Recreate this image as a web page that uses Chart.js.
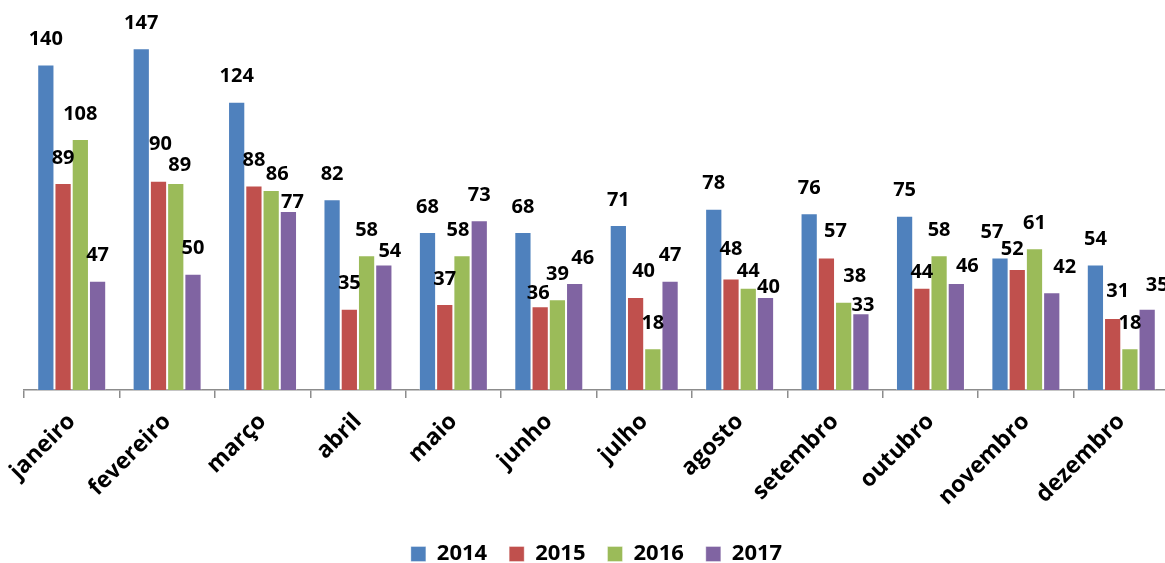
<!DOCTYPE html>
<html>
<head>
<meta charset="utf-8">
<script src="https://cdn.jsdelivr.net/npm/chart.js@4.4.1/dist/chart.umd.min.js"></script>
<style>
  html, body { margin: 0; padding: 0; background: #fff; overflow: hidden; }
  #wrap { width: 1165px; height: 563px; overflow: hidden; }
</style>
</head>
<body>
<div id="wrap">
  <canvas id="meses" width="1175" height="575"></canvas>
</div>
<script>
const months = ['janeiro', 'fevereiro', 'março', 'abril', 'maio', 'junho',
  'julho', 'agosto', 'setembro', 'outubro', 'novembro', 'dezembro'];
const years = ['2014', '2015', '2016', '2017'];

const values2014 = [140, 147, 124, 82, 68, 68, 71, 78, 76, 75, 57, 54];
const values2015 = [89, 90, 88, 35, 37, 36, 40, 48, 57, 44, 52, 31];
const values2016 = [108, 89, 86, 58, 58, 39, 18, 44, 38, 58, 61, 18];
const values2017 = [47, 50, 77, 54, 73, 46, 47, 40, 33, 46, 42, 35];

const colors = ['#4F81BD', '#C0504D', '#9BBB59', '#8064A2'];
const fontFamily = '"Open Sans", Lato, sans-serif';

// hand-placed label nudges [dx, dy], keyed "series-month"
const labelShift = {
  '1-1': [2, -11], '2-1': [4, 7],
  '2-2': [6, 9], '3-2': [4, 16],
  '3-3': [6, 12],
  '2-4': [-4, 0],
  '1-5': [-2, 12], '3-5': [8, 0],
  '1-6': [8, -1],
  '1-7': [0, -4], '2-7': [0, 9], '3-7': [3, 15],
  '1-8': [9, -1], '2-8': [11, 0], '3-8': [2, 17],
  '1-9': [0, 10], '3-9': [11, 8],
  '0-10': [-8, 0], '1-10': [-5, 5], '3-10': [13, 0],
  '1-11': [5, -2], '3-11': [10, 2]
};

const valueLabels = {
  id: 'valueLabels',
  afterDatasetsDraw(chart) {
    const ctx = chart.ctx;
    ctx.save();
    ctx.font = 'bold 20px ' + fontFamily;
    ctx.fillStyle = '#000';
    ctx.textAlign = 'center';
    ctx.textBaseline = 'middle';
    chart.data.datasets.forEach((ds, s) => {
      chart.getDatasetMeta(s).data.forEach((bar, i) => {
        const shift = labelShift[s + '-' + i] || [0, 0];
        ctx.fillText(ds.data[i], bar.x + shift[0], bar.y - 25 + shift[1]);
      });
    });
    ctx.restore();
  }
};

const seriesValues = [values2014, values2015, values2016, values2017];

const data = {
  labels: months,
  datasets: years.map((year, i) => ({
    label: year,
    data: seriesValues[i],
    backgroundColor: colors[i],
    borderColor: 'rgba(255,255,255,0.35)',
    borderWidth: 1,
    categoryPercentage: 0.723,
    barPercentage: 1
  }))
};

new Chart(document.getElementById('meses'), {
  type: 'bar',
  data: data,
  options: {
    responsive: false,
    animation: false,
    layout: { padding: { top: 18, left: 24, right: 6, bottom: 0 } },
    plugins: {
      legend: {
        position: 'bottom',
        labels: {
          boxWidth: 15,
          boxHeight: 15,
          padding: 22,
          color: '#000',
          font: { family: fontFamily, size: 22, weight: 'bold' }
        }
      },
      tooltip: { enabled: false }
    },
    scales: {
      x: {
        grid: {
          offset: true,
          drawOnChartArea: false,
          drawTicks: true,
          tickLength: 8,
          color: '#8c8c8c',
          lineWidth: 1.5
        },
        border: { color: '#8c8c8c', width: 1.5 },
        ticks: {
          minRotation: 45,
          maxRotation: 45,
          padding: 10,
          color: '#000',
          font: { family: fontFamily, size: 23, weight: 'bold' }
        },
        afterFit(scale) { scale.height = 131; }
      },
      y: {
        display: false,
        min: 0,
        max: 160
      }
    }
  },
  plugins: [valueLabels]
});
</script>
</body>
</html>
